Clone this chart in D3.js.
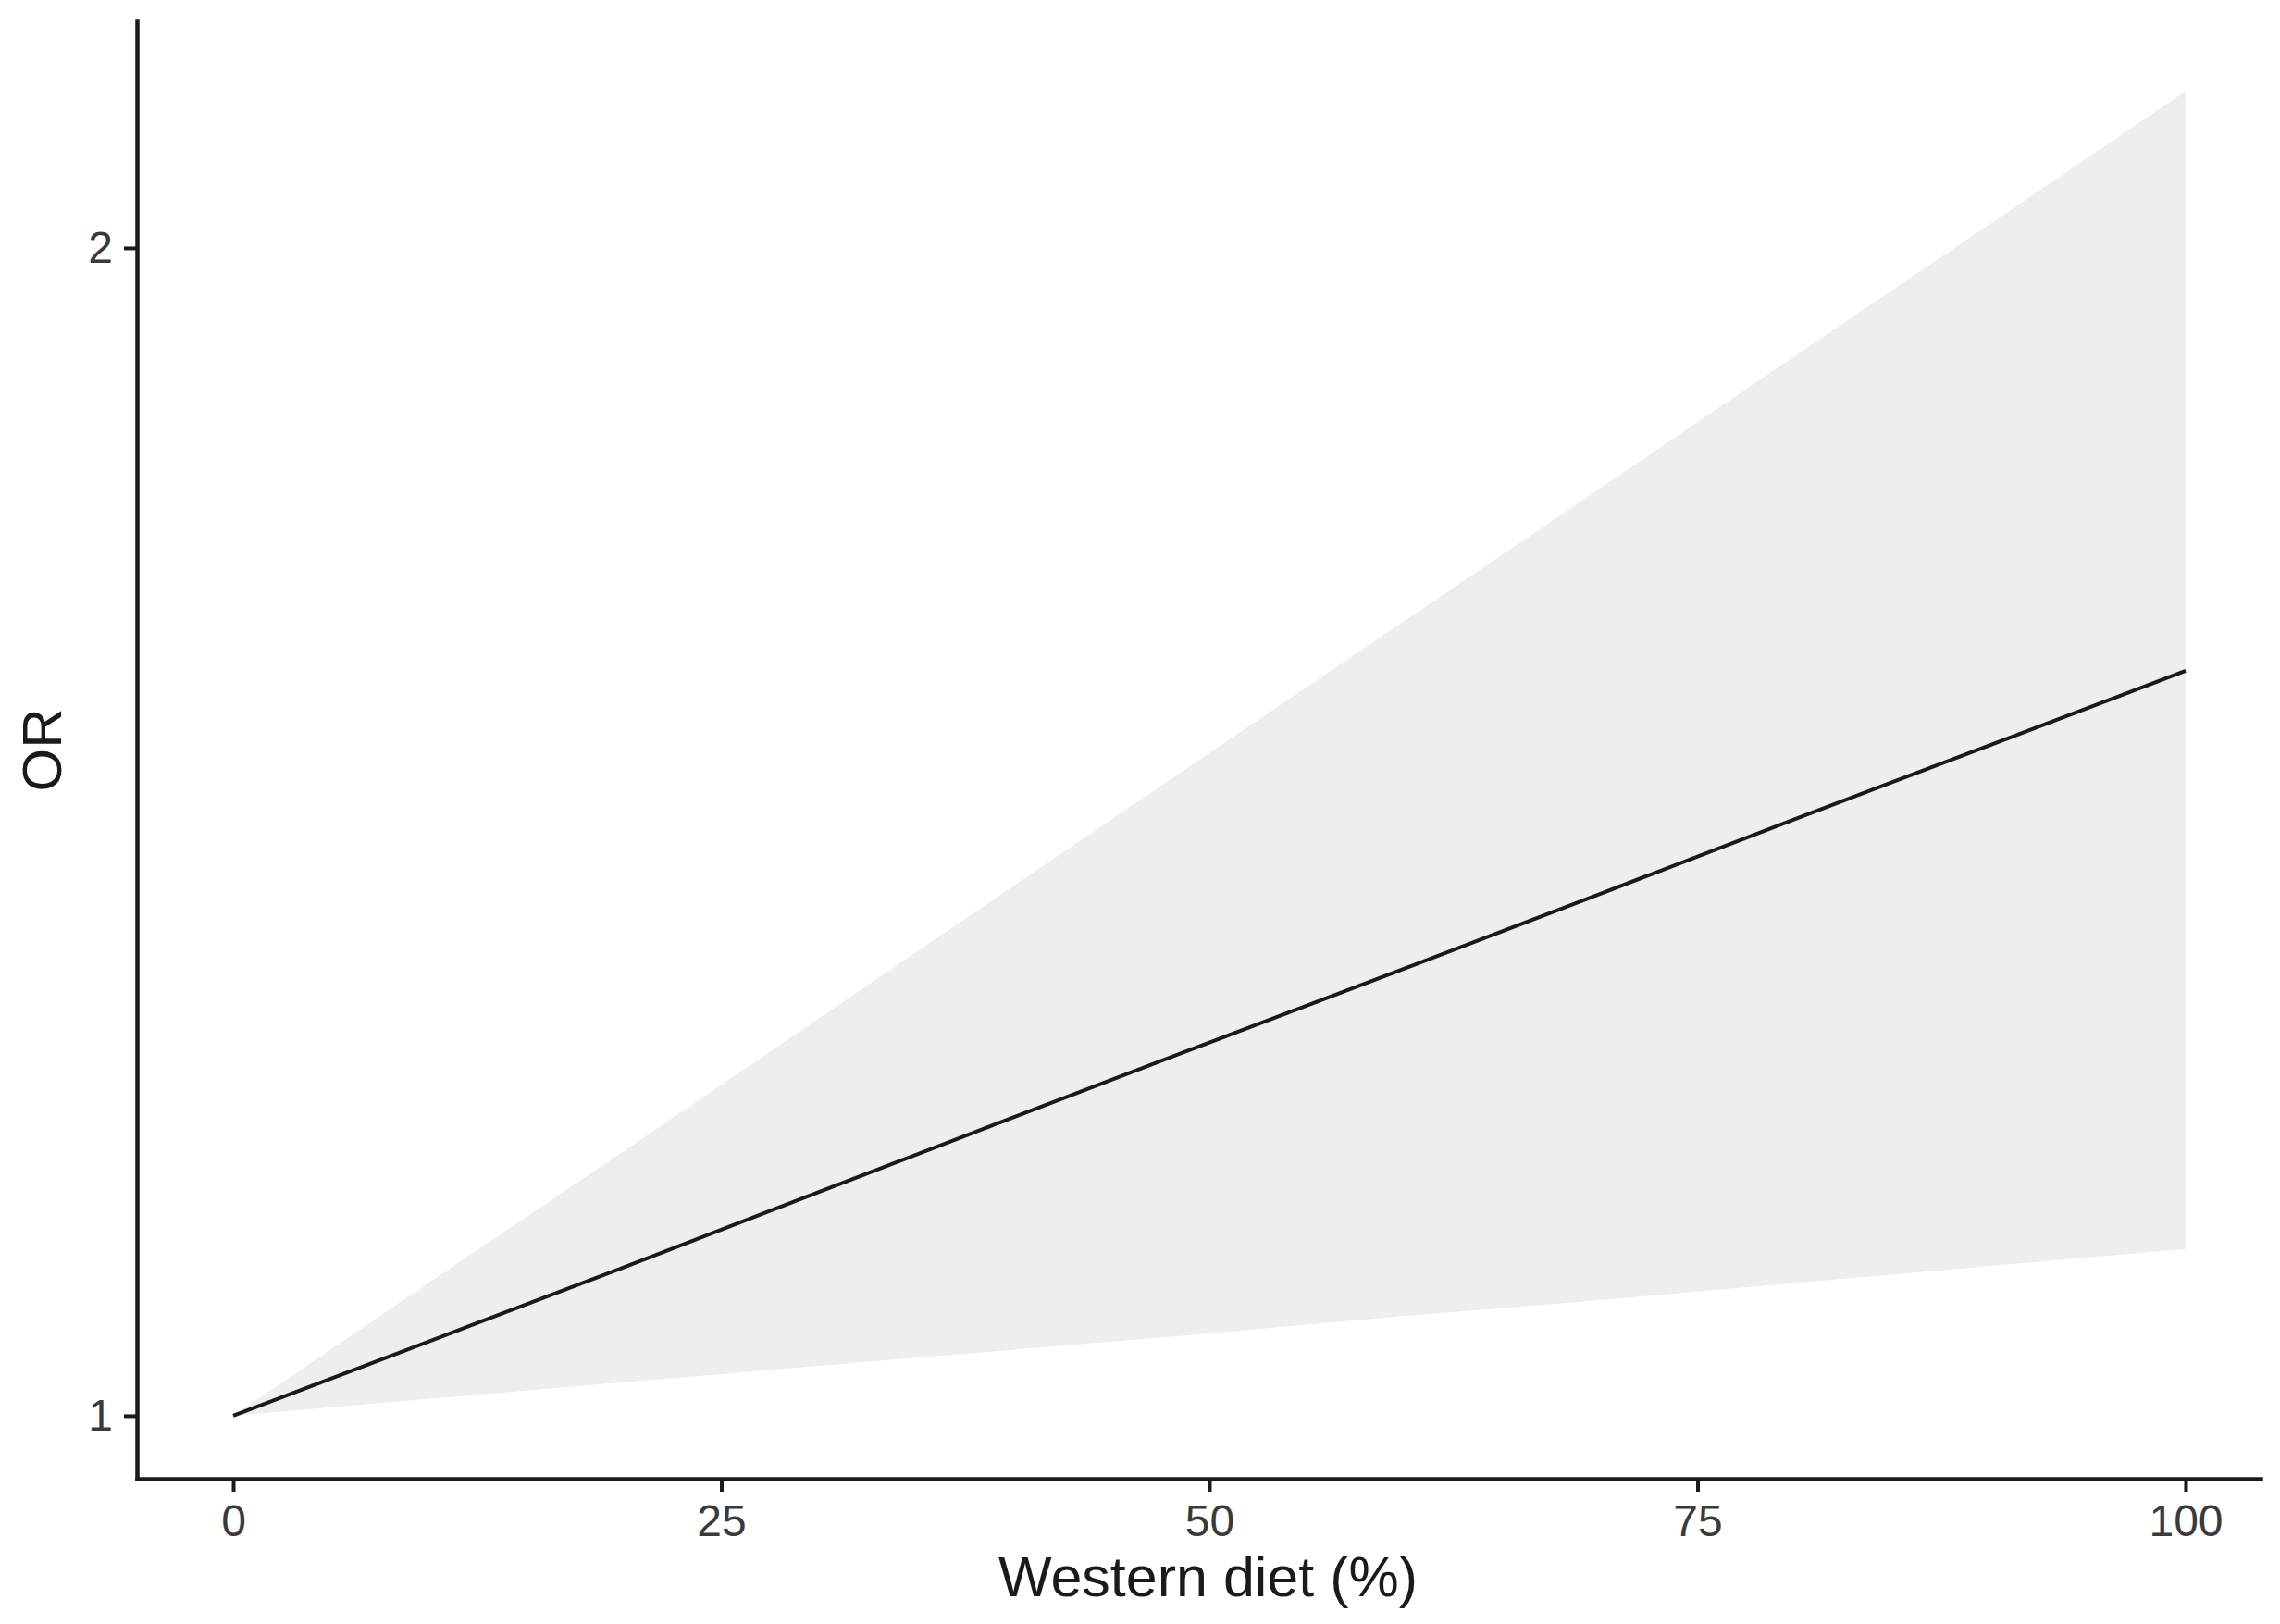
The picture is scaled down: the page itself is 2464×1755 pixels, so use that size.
<!DOCTYPE html>
<html>
<head>
<meta charset="utf-8">
<script src="https://cdn.jsdelivr.net/npm/d3@7"></script>
<style>
  html, body { margin: 0; padding: 0; background: #ffffff; }
  svg { display: block; }
</style>
</head>
<body>
<script>
// ---- data ----
const westernDiet = [0, 10, 20, 30, 40, 50, 60, 70, 80, 90, 100];
const orEstimate  = [1.000, 1.045, 1.092, 1.142, 1.194, 1.248, 1.304, 1.363, 1.425, 1.489, 1.556];
const orUpper     = [1.000, 1.082, 1.170, 1.266, 1.370, 1.482, 1.603, 1.734, 1.876, 2.029, 2.195];
const orLower     = [1.000, 1.010, 1.020, 1.030, 1.040, 1.050, 1.061, 1.071, 1.082, 1.093, 1.104];
const xTicks = [0, 25, 50, 75, 100];
const yTicks = [1, 2];
const xTitle = "Western diet (%)";
const yTitle = "OR";

(function () {
  const W = 2464, H = 1755;
  const mLeft = 148, mRight = 2443, mTop = 23, mBottom = 1598;

  const svg = d3.select("body").append("svg")
    .attr("width", W).attr("height", H)
    .style("font-family", "'Liberation Sans', Arial, sans-serif");

  const x = d3.scaleLinear().domain([-4.93, 103.84]).range([mLeft, mRight]);
  const y = d3.scaleLog().domain([0.9633, 2.288]).range([mBottom, mTop]);

  const rows = westernDiet.map((d, i) => ({ x: d, est: orEstimate[i], lo: orLower[i], hi: orUpper[i] }));

  // ribbon
  svg.append("path")
    .datum(rows)
    .attr("fill", "#eeeeec")
    .attr("d", d3.area().x(d => x(d.x)).y0(d => y(d.lo)).y1(d => y(d.hi)));

  // estimate line
  svg.append("path")
    .datum(rows)
    .attr("fill", "none")
    .attr("stroke", "#1a1a1a")
    .attr("stroke-width", 4)
    .attr("stroke-linejoin", "round")
    .attr("d", d3.line().x(d => x(d.x)).y(d => y(d.est)));

  // axes
  const xAxis = svg.append("g")
    .attr("transform", `translate(0,${mBottom})`)
    .call(d3.axisBottom(x).tickValues(xTicks).tickSize(14).tickSizeOuter(0).tickPadding(14).tickFormat(d3.format("d")));

  const yAxis = svg.append("g")
    .attr("transform", `translate(${mLeft},0)`)
    .call(d3.axisLeft(y).tickValues(yTicks).tickSize(14).tickSizeOuter(0).tickPadding(12).tickFormat(d3.format("d")));

  [xAxis, yAxis].forEach(g => {
    g.select(".domain").attr("stroke", "#1a1a1a").attr("stroke-width", 4.5).attr("stroke-linecap", "square");
    g.selectAll(".tick line").attr("stroke", "#1a1a1a").attr("stroke-width", 4);
    g.selectAll(".tick text").attr("fill", "#3a3a3a").style("font-size", "48px")
      .style("font-family", "'Liberation Sans', Arial, sans-serif");
  });

  // axis titles
  svg.append("text")
    .attr("x", (mLeft + mRight) / 2 + 10)
    .attr("y", 1725)
    .attr("text-anchor", "middle")
    .attr("fill", "#1a1a1a")
    .style("font-size", "61px")
    .text(xTitle);

  svg.append("text")
    .attr("transform", `translate(66,${(mTop + mBottom) / 2}) rotate(-90)`)
    .attr("text-anchor", "middle")
    .attr("fill", "#1a1a1a")
    .style("font-size", "60px")
    .text(yTitle);
})();
</script>
</body>
</html>
